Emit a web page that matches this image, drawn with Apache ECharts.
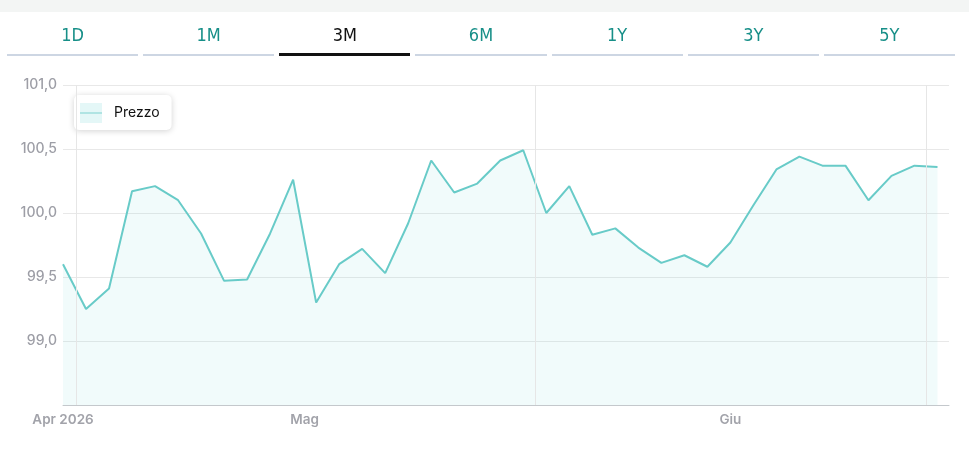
<!DOCTYPE html>
<html>
<head>
<meta charset="utf-8">
<script src="https://cdn.jsdelivr.net/npm/echarts@6/dist/echarts.min.js"></script>
<style>
    html, body { margin: 0; padding: 0; background: #fff; }
    #wrap { position: relative; width: 969px; height: 457px; overflow: hidden; }
    #topband { position: absolute; left: 0; top: 0; width: 969px; height: 12px; background: #f3f5f4; }
    #tabs { position: absolute; left: 7px; top: 12px; width: 948px; height: 44px; display: flex; gap: 5px; z-index: 2; }
    .tab { flex: 1; text-align: center; font-family: "DejaVu Sans Condensed", "Liberation Sans Narrow", sans-serif;
           font-size: 18px; color: #178f88; line-height: 20px; padding-top: 13px; height: 29px;
           border-bottom: 2px solid #cdd6e3; box-sizing: content-box; }
    .tab.active { color: #111; border-bottom: 3px solid #111; height: 28px; }
    #chart { position: absolute; left: 0; top: 0; width: 969px; height: 457px; }
</style>
</head>
<body>
<div id="wrap">
    <div id="topband"></div>
    <div id="tabs"></div>
    <div id="chart"></div>
</div>
<script>
'use strict';

// periodi dei tab
var periods = ['1D', '1M', '3M', '6M', '1Y', '3Y', '5Y'];
var activePeriod = '3M';

// prezzo (un punto per rilevazione)
var prices = [
    99.60, 99.25, 99.41, 100.17, 100.21, 100.10, 99.84, 99.47, 99.48, 99.84,
    100.26, 99.30, 99.60, 99.72, 99.53, 99.92, 100.41, 100.16, 100.23, 100.41,
    100.49, 100.00, 100.21, 99.83, 99.88, 99.73, 99.61, 99.67, 99.58, 99.77,
    100.06, 100.34, 100.44, 100.37, 100.37, 100.10, 100.29, 100.37, 100.36
];

// etichette dei mesi sull'asse x
var monthLabels = ['Apr 2026', 'Mag', 'Giu'];
var monthTicks = [0, 10.5, 29];

// linee verticali della griglia
var vLines = [0.57, 20.5, 37.5];

var yTicks = [99.0, 99.5, 100.0, 100.5, 101.0];

var tabsDiv = document.getElementById('tabs');
periods.forEach(function (p) {
    var d = document.createElement('div');
    d.className = 'tab' + (p === activePeriod ? ' active' : '');
    d.textContent = p;
    tabsDiv.appendChild(d);
});

var seriesData = prices.map(function (v, i) { return [i, v]; });

// icona legenda: area chiara con la linea al centro
var legendIcon = 'image://data:image/svg+xml;charset=utf-8,' + encodeURIComponent(
    '<svg xmlns="http://www.w3.org/2000/svg" width="22" height="20">' +
    '<rect x="0" y="0" width="22" height="20" fill="#e4f7f7"/>' +
    '<line x1="0" y1="10" x2="22" y2="10" stroke="#9fdedc" stroke-width="1.5"/>' +
    '</svg>');

var chart = echarts.init(document.getElementById('chart'));

var option = {
    animation: false,
    grid: {
        left: 63,
        right: 20,
        top: 85,
        bottom: 52,
        containLabel: false
    },
    legend: {
        left: 74,
        top: 95,
        padding: [8, 12, 7, 6],
        backgroundColor: '#fff',
        borderRadius: 5,
        shadowBlur: 6,
        shadowColor: 'rgba(0,0,0,0.18)',
        shadowOffsetY: 1,
        icon: legendIcon,
        itemWidth: 22,
        itemHeight: 20,
        textStyle: {
            fontFamily: 'Inter',
            fontSize: 14,
            color: '#111',
            padding: [0, 0, 0, 7]
        },
        data: ['Prezzo']
    },
    xAxis: {
        type: 'value',
        min: 0,
        max: 38.5,
        axisLine: { show: true, lineStyle: { color: '#c4c8cc' } },
        axisTick: { show: false },
        splitLine: { show: false },
        axisLabel: {
            customValues: monthTicks,
            margin: 8,
            fontFamily: 'Inter',
            fontWeight: 600,
            fontSize: 13.5,
            color: '#a2a3aa',
            formatter: function (val) {
                var k = monthTicks.indexOf(val);
                return k >= 0 ? monthLabels[k] : '';
            }
        }
    },
    yAxis: {
        type: 'value',
        min: 98.5,
        max: 101,
        interval: 0.5,
        axisLine: { show: false },
        axisTick: { show: false },
        splitLine: { lineStyle: { color: '#e8e8e8' } },
        axisLabel: {
            margin: 6,
            fontFamily: 'Inter',
            fontWeight: 500,
            fontSize: 14,
            color: '#9d9ea6',
            formatter: function (val) {
                if (yTicks.indexOf(val) < 0) return '';
                return val.toFixed(1).replace('.', ',');
            }
        }
    },
    series: [{
        name: 'Prezzo',
        type: 'line',
        symbol: 'none',
        data: seriesData,
        lineStyle: { color: '#68cbc8', width: 2 },
        itemStyle: { color: '#68cbc8' },
        areaStyle: { color: 'rgba(100,208,208,0.13)' },
        markLine: {
            silent: true,
            symbol: 'none',
            label: { show: false },
            lineStyle: { color: '#e6e6e6', type: 'solid', width: 1 },
            data: vLines.map(function (x) { return { xAxis: x }; })
        }
    }]
};

chart.setOption(option);
</script>
</body>
</html>
